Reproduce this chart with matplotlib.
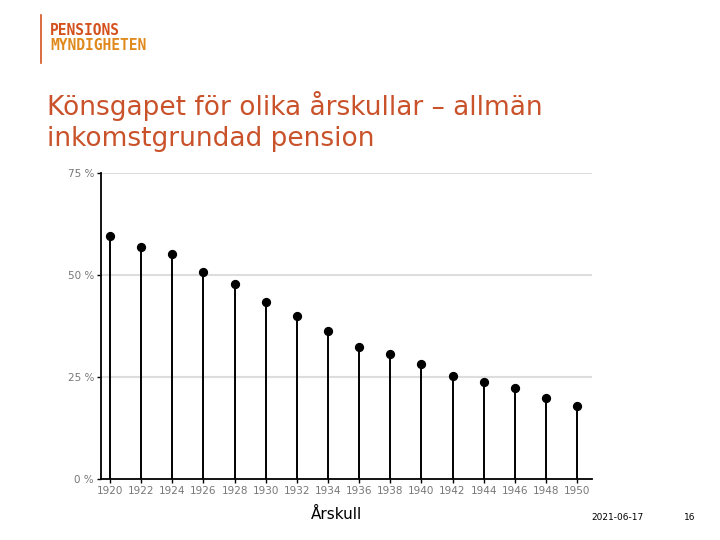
import matplotlib
matplotlib.use("Agg")
import matplotlib.pyplot as plt
from matplotlib.lines import Line2D

years = [1920, 1922, 1924, 1926, 1928, 1930, 1932, 1934, 1936, 1938,
         1940, 1942, 1944, 1946, 1948, 1950]
gap = [59.6, 56.9, 55.1, 50.7, 47.8, 43.4, 40.0, 36.3, 32.4, 30.6,
       28.2, 25.2, 23.8, 22.3, 19.9, 17.9]
yticks = [0, 25, 50, 75]
ytick_labels = ["0 %", "25 %", "50 %", "75 %"]
title_lines = ["Könsgapet för olika årskullar – allmän", "inkomstgrundad pension"]

fig = plt.figure(figsize=(7.2, 5.4), dpi=100)
ax = fig.add_axes([0.1403, 0.1130, 0.6819, 0.5667])

ax.vlines(years, 0, gap, color="black", linewidth=1.4, zorder=3)
ax.scatter(years, gap, s=32, color="black", zorder=4)

ax.set_xlim(1919.42, 1950.96)
ax.set_ylim(0, 75)
ax.set_xticks(years)
ax.set_xticklabels([str(y) for y in years], color="#777777", fontsize=7.5)
ax.set_yticks(yticks)
ax.set_yticklabels(ytick_labels, color="#777777", fontsize=7.5)
ax.tick_params(axis="both", length=3, width=1, color="black", pad=2)
for y in yticks[1:]:
    ax.axhline(y, color="#dddddd", linewidth=1.5, zorder=1)
for s in ["top", "right"]:
    ax.spines[s].set_visible(False)
for s in ["left", "bottom"]:
    ax.spines[s].set_linewidth(1.3)
ax.set_xlabel("Årskull", fontsize=11, x=0.48, labelpad=8)

# Title
title_color = "#c9522a"
fig.text(47/720, 1 - 115/540, title_lines[0], color=title_color, fontsize=19,
         ha="left", va="baseline")
fig.text(47/720, 1 - 146/540, title_lines[1], color=title_color, fontsize=19,
         ha="left", va="baseline")

# Logo
fig.add_artist(Line2D([41/720, 41/720], [1 - 15/540, 1 - 63/540], color="#d4511e", linewidth=1.2))
fig.text(50/720, 1 - 31/540, "PENSIONS", color="#d4511e", fontsize=10.5,
         family="DejaVu Sans Mono", fontweight="bold", ha="left", va="center")
fig.text(50/720, 1 - 46/540, "MYNDIGHETEN", color="#e08a1e", fontsize=10.5,
         family="DejaVu Sans Mono", fontweight="bold", ha="left", va="center")

# Footer
fig.text(617/720, 1 - 518/540, "2021-06-17", fontsize=6.5, ha="center", va="center")
fig.text(690/720, 1 - 518/540, "16", fontsize=6.5, ha="center", va="center")

fig.savefig("out.png", dpi=100)
